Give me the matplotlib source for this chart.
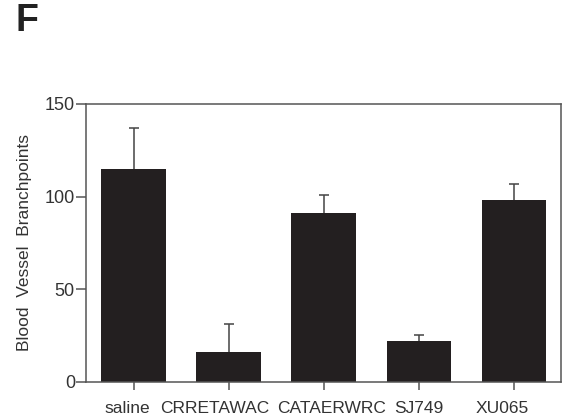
import numpy as np
import matplotlib
matplotlib.use("Agg")
import matplotlib.pyplot as plt

# values
groups = ["saline", "CRRETAWAC", "CATAERWRC", "SJ749", "XU065"]
branchpoints = [115, 16, 91, 22, 98]
err_up = [22, 15, 10, 3, 9]

# the original labels sit a bit off their ticks (in bar-spacing units)
label_shift = [-0.07, -0.15, 0.08, 0.0, -0.12]

plt.rcParams['font.family'] = ['Liberation Sans', 'DejaVu Sans']

fig = plt.figure(figsize=(5.66, 4.19), dpi=100)
ax = fig.add_axes([0.152, 0.089, 0.840, 0.663])

x = np.arange(len(groups))
ax.bar(x, branchpoints, width=0.68, color="#231f20", zorder=2)
eb = ax.errorbar(x, branchpoints, yerr=[np.zeros(len(err_up)), err_up],
                 fmt="none", ecolor="#444444", elinewidth=1.1, capsize=3.5,
                 capthick=1.1, zorder=1)
eb[1][0].set_visible(False)  # no cap at the bar top

ax.set_xlim(-0.5, 4.5)
ax.set_ylim(0, 150)
ax.set_yticks([0, 50, 100, 150])
ax.set_xticks(x)
ax.set_xticklabels([])

for sp in ax.spines.values():
    sp.set_color("#555555")
    sp.set_linewidth(1.1)

ax.tick_params(axis="y", direction="out", length=7, width=1.1, color="#555555",
               labelsize=13, labelcolor="#333333", pad=1)
ax.tick_params(axis="x", direction="out", length=6, width=1.1, color="#555555")

for i, name in enumerate(groups):
    ax.text(x[i] + label_shift[i], -0.098, name, transform=ax.get_xaxis_transform(),
            ha="center", va="center", fontsize=12.5, color="#333333")

ax.set_ylabel("Blood  Vessel  Branchpoints", fontsize=12.5, color="#333333", labelpad=9)

fig.text(0.027, 0.949, "F", fontsize=27, fontweight="bold", color="#222222",
         va="center", ha="left")

plt.savefig("out.png", dpi=100)
